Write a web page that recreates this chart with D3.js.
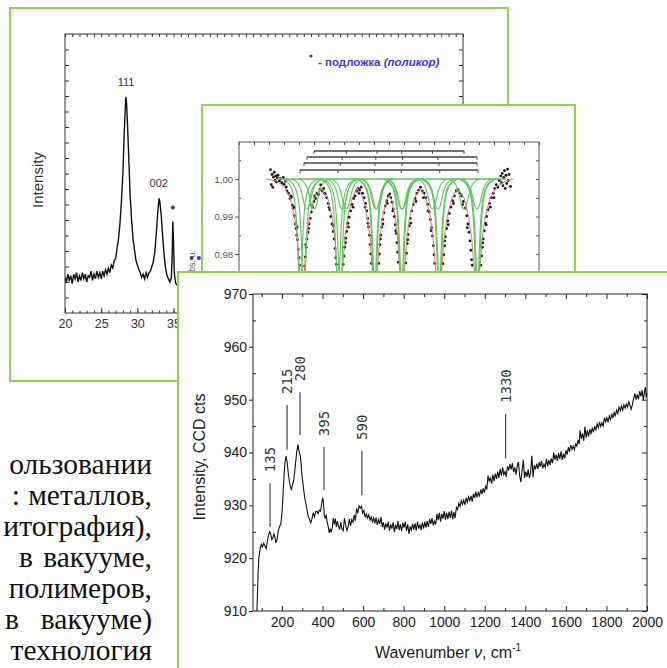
<!DOCTYPE html>
<html>
<head>
<meta charset="utf-8">
<script src="https://cdn.jsdelivr.net/npm/d3@7"></script>
<style>
  body { margin: 0; background: #fff; }
  svg { display: block; }
</style>
</head>
<body>
<svg width="667" height="668"></svg>
<script>
// Data

// XRD pattern (2theta, intensity a.u.)
var xrd = [
  [20.0,2.3],[20.2,2.0],[20.4,2.5],[20.6,2.1],[20.8,2.4],[21.0,1.9],[21.2,2.5],[21.4,2.2],[21.6,2.6],[21.8,2.0],
  [22.0,2.4],[22.2,2.1],[22.4,2.6],[22.6,2.2],[22.8,2.5],[23.0,2.0],[23.2,2.4],[23.4,2.3],[23.6,2.7],[23.8,2.1],
  [24.0,2.5],[24.2,2.2],[24.4,2.7],[24.6,2.3],[24.8,2.6],[25.0,2.2],[25.2,2.7],[25.4,2.4],[25.6,2.8],[25.8,2.5],
  [26.0,2.9],[26.2,2.6],[26.4,3.1],[26.6,2.9],[26.8,3.4],[27.0,3.5],[27.2,4.2],[27.4,4.8],[27.6,5.8],[27.8,7.2],
  [28.0,9.0],[28.2,11.8],[28.4,13.95],[28.5,13.6],[28.6,12.6],[28.8,10.2],[29.0,7.6],[29.2,6.0],[29.4,4.8],[29.6,4.1],
  [29.8,3.4],[30.0,3.1],[30.2,2.8],[30.4,2.6],[30.6,2.3],[30.8,2.5],[31.0,2.2],[31.2,2.6],[31.4,2.3],[31.6,2.6],
  [31.8,2.7],[32.0,3.0],[32.2,3.3],[32.4,3.9],[32.6,5.0],[32.8,6.4],[33.0,7.4],[33.1,7.2],[33.3,6.3],[33.5,4.9],
  [33.7,3.7],[33.9,2.9],[34.1,2.4],[34.3,2.2],[34.5,2.0],[34.7,2.3],[34.8,3.5],[34.9,5.9],[35.0,4.6],[35.1,2.6],
  [35.3,1.9],[35.5,1.8],[35.8,2.1],[36.1,1.9],[36.4,2.2],[36.7,2.0],[37.0,2.3],[37.5,2.1],[38.0,2.4]
];
var xrdPeakLabels = ["111", "002"];
var xrdPeakPos = [28.45, 32.95];
var xrdPeakTop = [13.95, 7.4];
var substratePos = [34.9, 37.5, 38.5];
var substrateTop = [5.9, 2.65, 2.65];
var xrdTicks = [20, 25, 30, 35, 40, 45, 50, 55, 60, 65, 70, 75];

// Mossbauer spectrum (velocity, relative transmission)
var mossDots = [
  [-7.9,1.0025],[-7.85,0.9985],[-7.8,1.0012],[-7.75,0.9978],[-7.7,1.0005],[-7.65,1.0018],[-7.6,0.9996],[-7.55,1.0008],
  [-7.5,0.9992],[-7.45,1.0003],[-7.4,1.0010],[-7.3,0.9995],[-7.25,1.0001],[-7.15,0.9990],[-7.05,1.0004],[-7.0,0.9986],
  [-6.9,0.9994],[-6.85,0.9979],[-6.8,0.9968],[-6.7,0.9962],[-6.6,0.9948],[-6.55,0.9955],[-6.45,0.9930],[-6.4,0.9922],
  [-6.3,0.9902],[-6.25,0.9880],[-6.2,0.9868],[-6.15,0.9850],[-6.1,0.9838],[-6.05,0.9812],[-6.0,0.9790],[-5.97,0.9770],
  [-5.62,0.9768],[-5.58,0.9792],[-5.52,0.9818],[-5.47,0.9840],[-5.4,0.9858],[-5.33,0.9880],[-5.25,0.9895],[-5.18,0.9912],
  [-5.1,0.9925],[-5.0,0.9940],[-4.9,0.9948],[-4.8,0.9962],[-4.7,0.9958],[-4.6,0.9972],[-4.55,0.9984],[-4.45,0.9968],
  [-4.35,0.9975],[-4.25,0.9960],[-4.15,0.9950],[-4.05,0.9935],[-3.95,0.9918],[-3.88,0.9900],[-3.8,0.9880],[-3.72,0.9860],
  [-3.65,0.9840],[-3.6,0.9815],[-3.55,0.9790],[-3.5,0.9772],
  [-3.05,0.9772],[-3.0,0.9795],[-2.95,0.9818],[-2.88,0.9842],[-2.82,0.9860],[-2.74,0.9882],[-2.66,0.9898],[-2.56,0.9915],
  [-2.46,0.9932],[-2.36,0.9948],[-2.26,0.9955],[-2.16,0.9968],[-2.06,0.9975],[-1.96,0.9970],[-1.86,0.9978],[-1.76,0.9962],
  [-1.66,0.9950],[-1.56,0.9935],[-1.48,0.9915],[-1.42,0.9895],[-1.36,0.9872],[-1.3,0.9850],[-1.26,0.9825],[-1.22,0.9800],
  [-1.18,0.9775],
  [-0.68,0.9775],[-0.64,0.9800],[-0.6,0.9825],[-0.55,0.9850],[-0.48,0.9872],[-0.42,0.9892],[-0.34,0.9910],[-0.25,0.9928],
  [-0.15,0.9942],[-0.05,0.9955],[0.05,0.9960],[0.12,0.9950],[0.2,0.9938],[0.28,0.9920],[0.35,0.9900],[0.42,0.9878],
  [0.48,0.9855],[0.53,0.9830],[0.58,0.9805],[0.62,0.9778],
  [1.12,0.9776],[1.16,0.9802],[1.21,0.9828],[1.27,0.9852],[1.34,0.9875],[1.42,0.9895],[1.52,0.9915],[1.62,0.9932],
  [1.74,0.9948],[1.86,0.9962],[1.98,0.9970],[2.1,0.9978],[2.22,0.9968],[2.34,0.9962],[2.46,0.9950],[2.58,0.9932],
  [2.68,0.9912],[2.76,0.9892],[2.84,0.9870],[2.9,0.9848],[2.96,0.9822],[3.0,0.9798],[3.05,0.9775],
  [3.6,0.9774],[3.65,0.9798],[3.7,0.9822],[3.76,0.9846],[3.84,0.9868],[3.92,0.9888],[4.02,0.9908],[4.12,0.9925],
  [4.24,0.9942],[4.36,0.9955],[4.48,0.9968],[4.6,0.9972],[4.72,0.9962],[4.84,0.9955],[4.96,0.9940],[5.08,0.9922],
  [5.18,0.9902],[5.26,0.9880],[5.34,0.9858],[5.4,0.9835],[5.46,0.9810],[5.5,0.9785],[5.55,0.9770],
  [6.12,0.9770],[6.17,0.9795],[6.22,0.9818],[6.28,0.9840],[6.35,0.9862],[6.42,0.9882],[6.5,0.9900],[6.6,0.9918],
  [6.7,0.9935],[6.82,0.9950],[6.95,0.9962],[7.05,0.9975],[7.15,0.9985],[7.25,0.9978],[7.35,0.9996],[7.45,1.0008],
  [7.5,0.9990],[7.55,1.0015],[7.6,0.9982],[7.65,1.0004],[7.7,1.0022],[7.75,0.9975],[7.8,1.0010],[7.85,0.9988],
  [7.9,1.0026],[7.95,0.9996],[8.0,1.0012],[8.1,0.9980],
  // second, scattered band around the same arcs
  [-6.5,0.9952],[-6.35,0.9925],[-6.12,0.9872],[-5.55,0.9825],[-5.36,0.9868],[-5.15,0.9930],[-4.95,0.9955],[-4.3,0.9962],
  [-4.0,0.9924],[-3.7,0.9875],[-2.9,0.9830],[-2.7,0.9872],[-2.4,0.9925],[-2.0,0.9962],[-1.6,0.9925],[-1.4,0.9882],
  [-0.58,0.9840],[-0.4,0.9880],[-0.1,0.9935],[0.25,0.9915],[0.45,0.9862],[1.25,0.9838],[1.45,0.9882],[1.8,0.9940],
  [2.3,0.9950],[2.6,0.9915],[2.8,0.9862],[3.72,0.9835],[3.95,0.9878],[4.3,0.9935],[4.9,0.9932],[5.22,0.9870],
  [6.25,0.9830],[6.48,0.9878],[6.75,0.9925],[7.0,0.9950]
];
var mossFit = [
  [-8.2,1.0],[-7.5,0.9995],[-7.0,0.998],[-6.6,0.995],[-6.3,0.99],[-6.1,0.984],[-5.95,0.975],[-5.8,0.96],[-5.65,0.975],
  [-5.5,0.984],[-5.3,0.99],[-5.0,0.995],[-4.55,0.9975],[-4.1,0.995],[-3.8,0.99],[-3.6,0.984],[-3.45,0.975],[-3.27,0.96],
  [-3.1,0.975],[-2.95,0.984],[-2.75,0.99],[-2.45,0.995],[-2.1,0.9975],[-1.75,0.995],[-1.45,0.99],[-1.25,0.984],
  [-1.1,0.975],[-0.93,0.96],[-0.78,0.975],[-0.62,0.984],[-0.42,0.99],[-0.2,0.994],[0,0.9955],[0.2,0.994],[0.42,0.99],
  [0.58,0.984],[0.72,0.975],[0.87,0.96],[1.03,0.975],[1.18,0.984],[1.38,0.99],[1.7,0.995],[2.1,0.9975],[2.45,0.995],
  [2.75,0.99],[2.95,0.984],[3.12,0.975],[3.33,0.96],[3.5,0.975],[3.67,0.984],[3.88,0.99],[4.2,0.995],[4.6,0.9975],
  [5.0,0.995],[5.3,0.99],[5.52,0.984],[5.7,0.975],[5.87,0.96],[6.03,0.975],[6.2,0.984],[6.42,0.99],[6.75,0.995],
  [7.2,0.998],[7.8,0.9995],[8.3,1.0]
];
// line positions of the four sextets (mm/s)
var sextetLines = [
  [-5.93, -3.40, -0.98, 0.82, 3.38, 5.93],
  [-5.67, -3.25, -0.93, 0.87, 3.33, 5.87],
  [-5.47, -3.12, -0.88, 0.90, 3.26, 5.87],
  [-5.00, -2.85, -0.80, 0.85, 2.90, 5.00]
];
var sextetStickLevel = [1.0024, 1.0043, 1.0059, 1.0075];
var sextetProfileKind = [0, 0, 1, 1];
// shape of one subspectrum dip (offset, transmission)
var dipProfiles = [
  [[-1.2,1.0],[-0.7,0.9985],[-0.45,0.996],[-0.3,0.992],[-0.2,0.986],[-0.12,0.978],[-0.06,0.97],[0,0.966],
   [0.06,0.97],[0.12,0.978],[0.2,0.986],[0.3,0.992],[0.45,0.996],[0.7,0.9985],[1.2,1.0]],
  [[-1.0,1.0],[-0.6,0.9988],[-0.4,0.997],[-0.25,0.9945],[-0.12,0.9925],[0,0.992],[0.12,0.9925],
   [0.25,0.9945],[0.4,0.997],[0.6,0.9988],[1.0,1.0]]
];
var mossBaseRange = [-7.5, 7.8];
var mossYTicks = [0.98, 0.99, 1.00];

// Raman spectrum (wavenumber, CCD counts)
var raman = [
  [75,909],[78,912],[82,917],[86,920],[92,921.8],[98,922.6],[104,922.1],[110,922.8],[116,922.3],[122,921.8],
  [128,923.2],[134,924.4],[139,925.0],[144,924.6],[150,923.5],[155,923.8],[160,924.6],[165,924.0],[170,922.9],[176,923.6],
  [182,925.2],[188,926.0],[194,926.4],[200,928.6],[205,932],[210,935.6],[215,938.2],[220,939.3],[225,938.3],[230,936.4],
  [236,934.6],[242,933.4],[247,933.0],[252,934.0],[257,934.5],[262,936.2],[268,938.4],[273,940.2],[279,941.5],[284,940.2],
  [290,939.4],[294,938.0],[298,935.8],[303,934.2],[308,932.6],[313,931.2],[318,930.3],[324,929.0],[330,927.8],[336,927.3],
  [342,926.7],[348,927.5],[354,928.6],[360,927.8],[366,928.8],[372,928.9],[378,928.4],[384,929.1],[390,928.9],[395,930.2],
  [400,931.4],[404,930.8],[408,928.2],[413,927.6],[418,928.1],[423,926.8],[428,926.0],[433,924.8],[438,925.6],[443,924.9],
  [448,925.8],[453,927.6],[458,926.4],[463,927.5],[468,925.9],[473,927.0],[478,926.2],[484,925.4],[490,926.8],[496,925.5],
  [502,925.2],[508,927.6],[514,926.3],[520,925.2],[526,925.9],[532,927.4],[538,926.1],[544,927.3],[550,926.8],[556,928.2],
  [562,927.1],[568,929.4],[574,928.5],[580,929.9],[586,929.5],[592,929.8],[598,928.5],[604,929.0],[610,927.7],[616,928.4],
  [622,927.6],[628,928.2],[634,927.2],[640,927.8],[646,926.9],[652,927.6],[658,926.6],[664,927.7],[670,926.3],[676,927.3],
  [682,926.5],[688,927.8],[694,925.9],[700,926.8],[706,925.4],[712,926.6],[718,925.8],[724,926.9],[730,925.2],[736,926.4],
  [742,925.6],[748,926.8],[754,924.9],[760,926.3],[766,925.5],[772,927.0],[778,925.3],[784,926.4],[790,925.1],[796,926.7],
  [802,925.8],[808,926.9],[814,925.2],[820,926.4],[826,924.6],[832,926.0],[838,925.3],[844,926.5],[850,925.4],[856,926.6],
  [862,925.2],[868,926.9],[874,925.6],[880,926.4],[886,925.3],[892,926.8],[898,925.6],[904,926.9],[910,925.8],[916,927.0],
  [922,925.9],[928,927.4],[934,926.5],[940,927.6],[946,926.2],[952,927.0],[958,926.4],[964,928.4],[970,927.2],[976,928.6],
  [982,926.9],[988,928.4],[994,927.5],[1000,928.9],[1006,927.3],[1012,928.6],[1018,927.4],[1024,928.8],[1030,927.6],[1036,929.0],
  [1042,927.4],[1048,928.7],[1054,927.6],[1060,929.6],[1066,929.2],[1072,930.4],[1078,929.8],[1084,930.9],[1090,930.2],[1096,931.0],
  [1102,930.1],[1108,931.4],[1114,930.6],[1120,931.6],[1126,930.9],[1132,931.8],[1138,930.7],[1144,932.2],[1150,931.4],[1156,932.6],
  [1162,931.5],[1168,932.4],[1174,931.8],[1180,933.0],[1186,932.1],[1192,933.2],[1198,932.4],[1204,933.6],[1210,933.0],[1216,935.6],
  [1222,934.6],[1228,935.2],[1234,934.1],[1240,935.8],[1246,934.6],[1252,936.0],[1258,935.0],[1264,936.4],[1270,935.2],[1276,936.9],
  [1282,935.6],[1288,937.2],[1294,935.8],[1300,936.4],[1306,935.4],[1312,937.4],[1318,936.6],[1324,937.8],[1330,936.8],[1336,938.0],
  [1342,936.3],[1348,937.2],[1354,935.8],[1360,937.4],[1366,938.2],[1372,935.6],[1378,934.4],[1384,936.6],[1390,938.6],[1396,935.2],
  [1402,936.4],[1408,935.4],[1414,936.8],[1420,935.2],[1426,936.2],[1432,939.4],[1438,935.3],[1444,937.6],[1450,936.8],[1456,937.9],
  [1462,936.9],[1468,938.2],[1474,937.3],[1480,938.4],[1486,937.0],[1492,937.8],[1498,937.2],[1504,938.8],[1510,937.4],[1516,938.6],
  [1522,937.6],[1528,938.9],[1534,938.0],[1540,940.0],[1546,938.6],[1552,939.6],[1558,938.4],[1564,939.9],[1570,938.8],[1576,940.2],
  [1582,938.6],[1588,939.8],[1594,938.9],[1600,940.4],[1606,939.6],[1612,941.0],[1618,940.1],[1624,941.4],[1630,940.6],[1636,941.2],
  [1642,940.5],[1648,941.6],[1654,941.2],[1660,942.4],[1666,941.6],[1670,944.2],[1676,942.6],[1682,943.6],[1688,942.2],[1694,944.9],
  [1700,942.8],[1706,944.2],[1712,943.0],[1718,944.4],[1724,943.6],[1730,944.6],[1736,943.8],[1742,945.0],[1748,944.2],[1754,945.4],
  [1760,944.7],[1766,945.8],[1772,944.9],[1778,945.6],[1784,945.0],[1790,946.6],[1796,945.8],[1802,946.6],[1808,945.7],[1814,946.9],
  [1820,946.2],[1826,947.3],[1832,946.5],[1838,947.6],[1844,947.0],[1850,948.0],[1856,947.4],[1862,948.6],[1868,947.9],[1874,948.8],
  [1880,948.0],[1886,949.0],[1892,948.4],[1898,949.2],[1904,948.6],[1910,949.6],[1916,948.9],[1922,948.2],[1928,949.0],[1934,950.2],
  [1940,951.2],[1946,950.0],[1952,951.0],[1958,950.1],[1964,951.6],[1970,950.6],[1976,951.8],[1982,949.9],[1988,951.6],[1992,952.4],
  [1996,950.4],[2000,951.2]
];
var ramanPeakLabels = ["135", "215", "280", "395", "590", "1330"];
var ramanPeakX = [141, 225, 289, 407, 594, 1303];
var ramanPeakLow = [925.9, 940.5, 943.3, 932.9, 931.9, 938.9];
var ramanPeakHigh = [934.2, 949.0, 951.4, 941.0, 940.3, 947.3];
var ramanXTicks = [200, 400, 600, 800, 1000, 1200, 1400, 1600, 1800, 2000];
var ramanYTicks = [910, 920, 930, 940, 950, 960, 970];

// body text next to the figure, as far as it shows (right justified)
var textLines = ["ользовании", "металлов,", "итография),", "вакууме,", "полимеров,", "вакууме)", "технология"];
var textFragments = ["", ":", "", "в", "", "в", ""];

var green = "#92d050";
var sans = "'Liberation Sans', Arial, sans-serif";

var svg = d3.select("svg");
var defs = svg.append("defs");

function addClip(id, x, y, w, h) {
  defs.append("clipPath").attr("id", id)
    .append("rect").attr("x", x).attr("y", y).attr("width", w).attr("height", h);
}

function styleAxis(g, size, color) {
  g.select(".domain").remove();
  g.selectAll("line").attr("stroke", color);
  g.selectAll("text").attr("font-family", sans).attr("font-size", size).attr("fill", color);
  return g;
}

//###############################################
// Body text
//###############################################

var txt = svg.append("g")
    .attr("font-family", "'Liberation Serif', 'Times New Roman', serif")
    .attr("font-size", 29.5)
    .attr("fill", "#111");

textLines.forEach(function(s, i) {
  txt.append("text").attr("x", 152).attr("y", 474 + i * 31)
      .attr("text-anchor", "end").text(s);
});
var fragEnd = [0, 20, 0, 33, 0, 19, 0];
textFragments.forEach(function(s, i) {
  if (!s) return;
  txt.append("text").attr("x", fragEnd[i]).attr("y", 474 + i * 31)
      .attr("text-anchor", "end").text(s);
});

//###############################################
// Panel 1: XRD
//###############################################

var p1 = svg.append("g");
p1.append("rect").attr("x", 10).attr("y", 8).attr("width", 498).attr("height", 373)
    .attr("fill", "#fff").attr("stroke", green).attr("stroke-width", 2);

var x1 = d3.scaleLinear().domain([20, 75]).range([65, 463]);
var y1 = d3.scaleLinear().domain([0, 18]).range([313, 34]);
addClip("c1", 65, 34, 398, 279);

styleAxis(p1.append("g").attr("transform", "translate(0,313)")
    .call(d3.axisBottom(x1).tickValues(xrdTicks).tickSize(-5).tickPadding(6)), 12.5, "#333");
styleAxis(p1.append("g").attr("transform", "translate(0,313)")
    .call(d3.axisBottom(x1).tickValues(d3.range(21, 75, 1)).tickSize(-2.5).tickFormat("")), 10, "#333");
styleAxis(p1.append("g").attr("transform", "translate(0,34)")
    .call(d3.axisTop(x1).tickValues(d3.range(20, 76, 1)).tickSize(-3).tickFormat("")), 10, "#333");
styleAxis(p1.append("g").attr("transform", "translate(65,0)")
    .call(d3.axisLeft(y1).tickValues(d3.range(1, 18, 1)).tickSize(-4).tickFormat("")), 10, "#333");
styleAxis(p1.append("g").attr("transform", "translate(463,0)")
    .call(d3.axisRight(y1).tickValues(d3.range(1, 18, 1)).tickSize(-4).tickFormat("")), 10, "#333");

p1.append("rect").attr("x", 65).attr("y", 34).attr("width", 398).attr("height", 279)
    .attr("fill", "none").attr("stroke", "#333");

p1.append("path").datum(xrd)
    .attr("clip-path", "url(#c1)")
    .attr("fill", "none").attr("stroke", "#111").attr("stroke-width", 1.4)
    .attr("d", d3.line().x(function(d) { return x1(d[0]); }).y(function(d) { return y1(d[1]); }));

p1.selectAll(".plab").data(xrdPeakLabels).enter().append("text")
    .attr("x", function(d, i) { return x1(xrdPeakPos[i]); })
    .attr("y", function(d, i) { return y1(xrdPeakTop[i]) - 11; })
    .attr("text-anchor", "middle").attr("font-family", sans).attr("font-size", 11).attr("fill", "#333")
    .text(function(d) { return d; });

p1.selectAll(".sub").data(substratePos).enter().append("circle")
    .attr("cx", function(d) { return x1(d); })
    .attr("cy", function(d, i) { return y1(substrateTop[i]) - 14; })
    .attr("r", 2).attr("fill", "#3535d0");

p1.append("circle").attr("cx", 311).attr("cy", 56).attr("r", 1.6).attr("fill", "#3535d0");
var leg = p1.append("text").attr("x", 318).attr("y", 66)
    .attr("font-family", sans).attr("font-size", 11.5).attr("font-weight", "bold").attr("fill", "#3b3bd4");
leg.append("tspan").text("- подложка ");
leg.append("tspan").attr("font-style", "italic").text("(поликор)");

p1.append("text").attr("transform", "translate(43,180) rotate(-90)")
    .attr("text-anchor", "middle").attr("font-family", sans).attr("font-size", 15).attr("fill", "#333")
    .text("Intensity");

//###############################################
// Panel 2: Mossbauer
//###############################################

var p2 = svg.append("g");
p2.append("rect").attr("x", 202).attr("y", 105).attr("width", 373).attr("height", 320)
    .attr("fill", "#fff").attr("stroke", green).attr("stroke-width", 2);

var x2 = d3.scaleLinear().domain([-10, 10]).range([239, 539]);
var y2 = d3.scaleLinear().domain([0.96, 1.01]).range([329, 141.5]);
addClip("c2", 239, 142, 300, 187);

var commaFmt = function(d) { return d3.format(".2f")(d).replace(".", ","); };
styleAxis(p2.append("g").attr("transform", "translate(239,0)")
    .call(d3.axisLeft(y2).tickValues(mossYTicks).tickSize(4).tickPadding(2).tickFormat(commaFmt)), 9.5, "#555");
styleAxis(p2.append("g").attr("transform", "translate(239,0)")
    .call(d3.axisLeft(y2).tickValues([0.975, 0.985, 0.995, 1.005]).tickSize(-2).tickFormat("")), 9, "#555");
styleAxis(p2.append("g").attr("transform", "translate(539,0)")
    .call(d3.axisRight(y2).tickValues(d3.range(0.965, 1.009, 0.005)).tickSize(-3).tickFormat("")), 9, "#555");
styleAxis(p2.append("g").attr("transform", "translate(0,142)")
    .call(d3.axisTop(x2).tickValues(d3.range(-10, 11, 1)).tickSize(-3).tickFormat("")), 9, "#555");

p2.append("rect").attr("x", 239).attr("y", 142).attr("width", 300).attr("height", 187)
    .attr("fill", "none").attr("stroke", "#555");

p2.append("text").attr("transform", "translate(195,250) rotate(-90)")
    .attr("text-anchor", "end").attr("font-family", sans).attr("font-size", 9).attr("fill", "#555")
    .text("Transmission, abs. u.");

var plot2 = p2.append("g").attr("clip-path", "url(#c2)");
var line2 = d3.line().x(function(d) { return x2(d[0]); }).y(function(d) { return y2(d[1]); });

plot2.selectAll(".dot").data(mossDots).enter().append("circle")
    .attr("cx", function(d) { return x2(d[0]); })
    .attr("cy", function(d) { return y2(d[1]); })
    .attr("r", 1.4).attr("fill", "#1a1a1a");

plot2.append("path").datum(mossFit).attr("d", line2)
    .attr("fill", "none").attr("stroke", "#e07878").attr("stroke-width", 1);

plot2.append("path").datum([[mossBaseRange[0], 1.0], [mossBaseRange[1], 1.0]]).attr("d", line2)
    .attr("fill", "none").attr("stroke", "#5cc45c").attr("stroke-width", 1.3);

sextetLines.forEach(function(lines, s) {
  var prof = dipProfiles[sextetProfileKind[s]];
  lines.forEach(function(c) {
    plot2.append("path")
        .datum(prof.map(function(p) { return [c + p[0], p[1]]; }))
        .attr("d", line2.curve(d3.curveMonotoneX))
        .attr("fill", "none").attr("stroke", "#5cc45c").attr("stroke-width", 1.1);
  });
  line2.curve(d3.curveLinear);

  // stick diagram
  var yy = y2(sextetStickLevel[s]);
  plot2.append("line")
      .attr("x1", x2(lines[0])).attr("x2", x2(lines[5]))
      .attr("y1", yy).attr("y2", yy)
      .attr("stroke", "#444").attr("stroke-width", 1.5);
  plot2.selectAll(null).data(lines).enter().append("line")
      .attr("x1", function(d) { return x2(d); }).attr("x2", function(d) { return x2(d); })
      .attr("y1", yy).attr("y2", yy + 3)
      .attr("stroke", "#444").attr("stroke-width", 1);
});

//###############################################
// Panel 3: Raman
//###############################################

var p3 = svg.append("g");
p3.append("rect").attr("x", 178).attr("y", 272).attr("width", 540).attr("height", 440)
    .attr("fill", "#fff").attr("stroke", green).attr("stroke-width", 2);

var x3 = d3.scaleLinear().domain([57, 2000]).range([253, 647]);
var y3 = d3.scaleLinear().domain([910, 970]).range([611, 294]);
addClip("c3", 253, 294, 394, 317);

styleAxis(p3.append("g").attr("transform", "translate(0,611)")
    .call(d3.axisBottom(x3).tickValues(ramanXTicks).tickSize(-5).tickPadding(6).tickFormat(d3.format("d"))), 14, "#222");
styleAxis(p3.append("g").attr("transform", "translate(0,611)")
    .call(d3.axisBottom(x3).tickValues(d3.range(100, 2000, 200)).tickSize(-3).tickFormat("")), 10, "#222");
styleAxis(p3.append("g").attr("transform", "translate(0,294)")
    .call(d3.axisTop(x3).tickValues(ramanXTicks).tickSize(-5).tickFormat("")), 10, "#222");
styleAxis(p3.append("g").attr("transform", "translate(0,294)")
    .call(d3.axisTop(x3).tickValues(d3.range(100, 2000, 200)).tickSize(-3).tickFormat("")), 10, "#222");
styleAxis(p3.append("g").attr("transform", "translate(253,0)")
    .call(d3.axisLeft(y3).tickValues(ramanYTicks).tickSize(4).tickPadding(2).tickFormat(d3.format("d"))), 14, "#222");
styleAxis(p3.append("g").attr("transform", "translate(253,0)")
    .call(d3.axisLeft(y3).tickValues(d3.range(915, 970, 10)).tickSize(-3).tickFormat("")), 10, "#222");
styleAxis(p3.append("g").attr("transform", "translate(647,0)")
    .call(d3.axisRight(y3).tickValues(ramanYTicks).tickSize(-5).tickFormat("")), 10, "#222");
styleAxis(p3.append("g").attr("transform", "translate(647,0)")
    .call(d3.axisRight(y3).tickValues(d3.range(915, 970, 10)).tickSize(-3).tickFormat("")), 10, "#222");

p3.append("rect").attr("x", 253).attr("y", 294).attr("width", 394).attr("height", 317)
    .attr("fill", "none").attr("stroke", "#222");

p3.append("path").datum(raman)
    .attr("clip-path", "url(#c3)")
    .attr("fill", "none").attr("stroke", "#111").attr("stroke-width", 1.1)
    .attr("d", d3.line().x(function(d) { return x3(d[0]); }).y(function(d) { return y3(d[1]); }));

var peaks = p3.selectAll(".peak").data(ramanPeakLabels).enter().append("g");
peaks.append("line")
    .attr("x1", function(d, i) { return x3(ramanPeakX[i]); })
    .attr("x2", function(d, i) { return x3(ramanPeakX[i]); })
    .attr("y1", function(d, i) { return y3(ramanPeakLow[i]); })
    .attr("y2", function(d, i) { return y3(ramanPeakHigh[i]); })
    .attr("stroke", "#222").attr("stroke-width", 1);
peaks.append("text")
    .attr("transform", function(d, i) {
      return "translate(" + x3(ramanPeakX[i]) + "," + (y3(ramanPeakHigh[i]) - 11) + ") rotate(-90)";
    })
    .attr("dy", "0.35em")
    .attr("font-family", "'DejaVu Sans Mono', monospace").attr("font-size", 14).attr("fill", "#333")
    .text(function(d) { return d; });

p3.append("text").attr("transform", "translate(205,457) rotate(-90)")
    .attr("text-anchor", "middle").attr("font-family", sans).attr("font-size", 16).attr("fill", "#222")
    .text("Intensity, CCD cts");

var xt = p3.append("text").attr("x", 448).attr("y", 658)
    .attr("text-anchor", "middle").attr("font-family", sans).attr("font-size", 16).attr("fill", "#222");
xt.append("tspan").text("Wavenumber ");
xt.append("tspan").attr("font-style", "italic").text("ν");
xt.append("tspan").text(", cm");
xt.append("tspan").attr("font-size", 10).attr("dy", -7).text("-1");

</script>
</body>
</html>
